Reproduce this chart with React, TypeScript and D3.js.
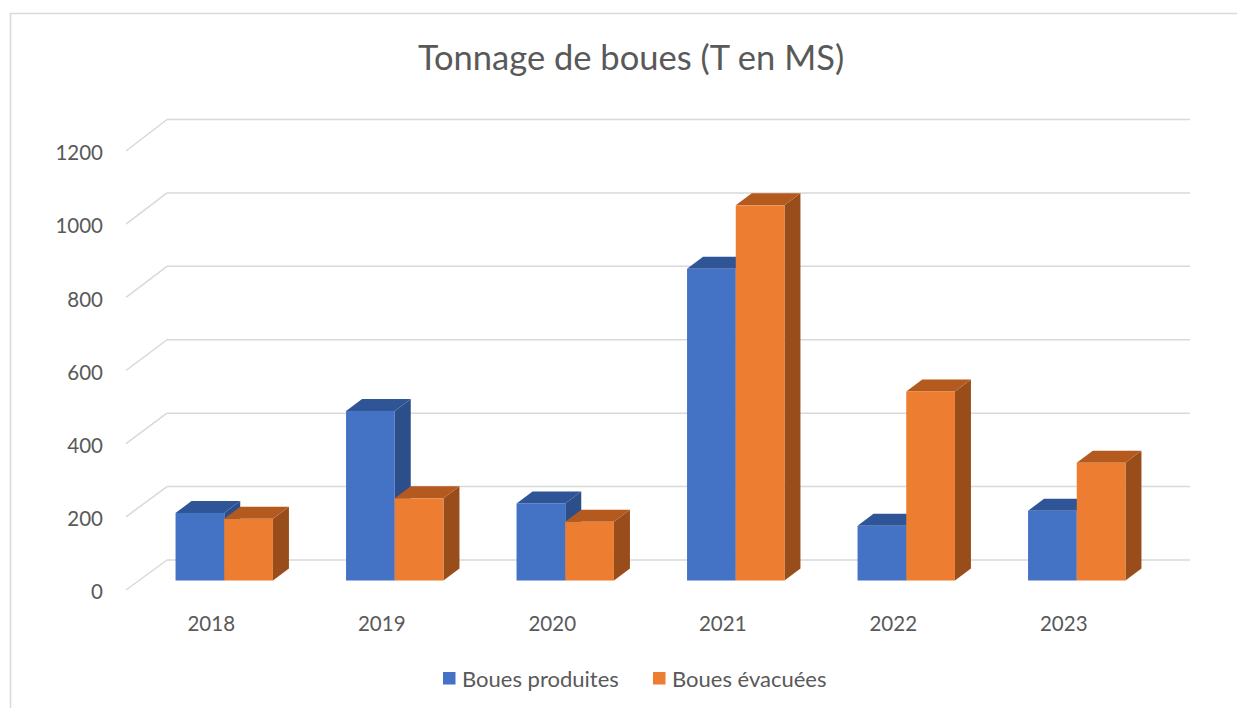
import React from "react";
import * as d3 from "d3";

const years = ["2018", "2019", "2020", "2021", "2022", "2023"];
const seriesNames = ["Boues produites", "Boues évacuées"];
const produites = [184, 462, 210, 849, 149, 190];
const evacuees = [168, 224, 160, 1022, 515, 321];
const ticks = [0, 200, 400, 600, 800, 1000, 1200];
const title = "Tonnage de boues (T en MS)";

const W = 1237;
const H = 708;
const FONT = "Lato, 'Open Sans', sans-serif";

const colors = [
  { front: "#4472C4", top: "#2F5597", side: "#2C4F8C" },
  { front: "#ED7D31", top: "#B45A1F", side: "#994D1B" },
];

export default function App() {
  const x = d3.scaleBand<string>().domain(years).range([167, 1190]).padding(0);
  const yBack = d3.scaleLinear().domain([0, 1200]).range([560, 119.5]);
  const yFront = d3.scaleLinear().domain([0, 1200]).range([590, 151]);
  const floorDx = -41;
  const barDx = -28;
  const barDy = 20.5;
  const depthX = 16;
  const depthY = -12;
  const pairHalf = 48.7;

  const data = [produites, evacuees];

  const bars: React.ReactNode[] = [];
  years.forEach((yr, i) => {
    const cx = (x(yr) as number) + x.bandwidth() / 2 + barDx;
    const inner = d3
      .scaleBand<string>()
      .domain(seriesNames)
      .range([cx - pairHalf, cx + pairHalf])
      .padding(0);
    seriesNames.forEach((s, si) => {
      const v = data[si][i];
      const x0 = inner(s) as number;
      const x1 = x0 + inner.bandwidth();
      const yt = yBack(v) + barDy;
      const yb = yBack(0) + barDy;
      const c = colors[si];
      const top = [
        [x0, yt],
        [x1, yt],
        [x1 + depthX, yt + depthY],
        [x0 + depthX, yt + depthY],
      ];
      const side = [
        [x1, yt],
        [x1 + depthX, yt + depthY],
        [x1 + depthX, yb + depthY],
        [x1, yb],
      ];
      bars.push(
        <g key={`${yr}-${s}`}>
          <polygon points={side.map((p) => p.join(",")).join(" ")} fill={c.side} />
          <polygon points={top.map((p) => p.join(",")).join(" ")} fill={c.top} />
          <rect x={x0} y={yt} width={x1 - x0} height={yb - yt} fill={c.front} />
        </g>
      );
    });
  });

  return (
    <svg
      width={W}
      height={H}
      style={{ position: "absolute", left: 0, top: 0, background: "#fff" }}
      fontFamily={FONT}
    >
      <rect x={0} y={0} width={W} height={H} fill="#fff" />
      <line x1={10} y1={13.5} x2={W} y2={13.5} stroke="#d9d9d9" strokeWidth={1.5} />
      <line x1={10.5} y1={13} x2={10.5} y2={H} stroke="#d9d9d9" strokeWidth={1.5} />

      <text x={631} y={70} textAnchor="middle" fontSize={34.5} fill="#595959">
        {title}
      </text>

      {ticks.map((t) => (
        <g key={t}>
          <line x1={126} y1={yFront(t)} x2={167} y2={yBack(t)} stroke="#d9d9d9" strokeWidth={1.5} />
          <line x1={167} y1={yBack(t)} x2={1190} y2={yBack(t)} stroke="#d9d9d9" strokeWidth={1.5} />
          <text
            x={103}
            y={yFront(t)}
            dy="0.45em"
            textAnchor="end"
            fontSize={20.5}
            fill="#595959"
          >
            {t}
          </text>
        </g>
      ))}

      {bars}

      {years.map((yr) => (
        <text
          key={yr}
          x={(x(yr) as number) + x.bandwidth() / 2 + floorDx}
          y={622}
          dy="0.42em"
          textAnchor="middle"
          fontSize={20.5}
          fill="#595959"
        >
          {yr}
        </text>
      ))}

      <rect x={443} y={672} width={12.5} height={12.5} fill={colors[0].front} />
      <text x={462} y={686.5} fontSize={22} fill="#595959">
        {seriesNames[0]}
      </text>
      <rect x={653} y={672} width={12.5} height={12.5} fill={colors[1].front} />
      <text x={672} y={686.5} fontSize={22} fill="#595959">
        {seriesNames[1]}
      </text>
    </svg>
  );
}
